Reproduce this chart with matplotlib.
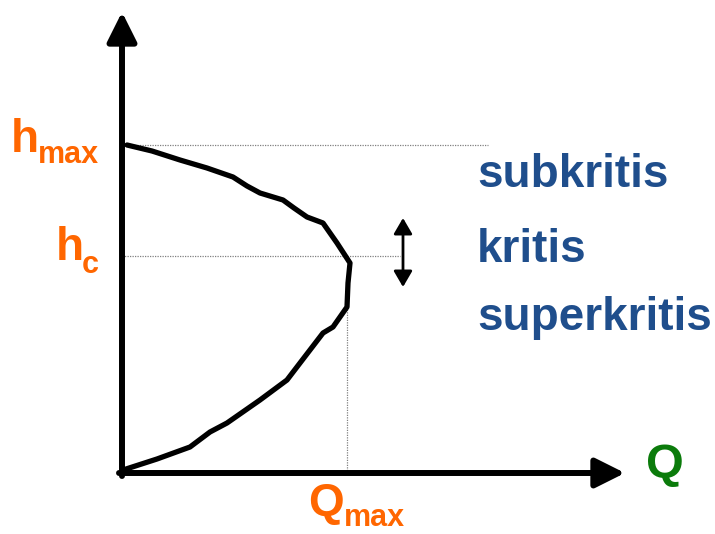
import matplotlib.pyplot as plt

# Kurva energi spesifik: debit Q terhadap tinggi h (satuan bebas)
curve_q = [5, 30, 58, 85, 111, 125, 138, 161, 172, 185, 201, 215, 228, 226,
           225, 211, 201, 178, 165, 138, 105, 88, 68, 35, 1]
curve_h = [328, 322, 313, 305, 296, 287, 280, 273, 265, 256, 250, 230, 210, 190,
           166, 146, 140, 110, 93, 73, 50, 41, 26, 14, 3]

h_max = 328
h_c = 217
q_max = 225
q_axis_end = 503
h_axis_end = 461

regimes = ['subkritis', 'kritis', 'superkritis']
regime_h = [286, 211, 143]

orange = '#FF6600'
blue = '#1F4E8C'
green = '#0B7B0B'
font = ['Liberation Sans', 'DejaVu Sans']

fig = plt.figure(figsize=(7.15, 5.34), dpi=100)
ax = fig.add_axes([0, 0, 1, 1])
ax.set_xlim(-122, 593)
ax.set_ylim(-61, 473)
ax.axis('off')

# garis bantu putus-putus
ax.plot([0, 366], [h_max, h_max], color='gray', lw=0.9, ls=(0, (1, 1)))
ax.plot([0, 278], [h_c, h_c], color='gray', lw=0.9, ls=(0, (1, 1)))
ax.plot([q_max, q_max], [0, 166], color='gray', lw=0.9, ls=(0, (1, 1)))

# kurva
ax.plot(curve_q, curve_h, color='black', lw=3.8, solid_capstyle='round',
        solid_joinstyle='round')

# sumbu dengan panah
arrow = dict(arrowstyle='-|>,head_length=0.9,head_width=0.45', lw=4.3,
             color='black', mutation_scale=20, shrinkA=0, shrinkB=0)
ax.annotate('', xy=(0, h_axis_end), xytext=(0, -3), arrowprops=arrow)
ax.annotate('', xy=(q_axis_end, 0), xytext=(-3, 0), arrowprops=arrow)

# panah dua arah
ax.annotate('', xy=(281, 255), xytext=(281, 186),
            arrowprops=dict(arrowstyle='<|-|>,head_length=0.6,head_width=0.35',
                            lw=2, color='black', mutation_scale=16,
                            shrinkA=0, shrinkB=0))

# label rezim aliran
for name, hy in zip(regimes, regime_h):
    ax.text(355, hy, name, color=blue, fontsize=33, fontweight='bold',
            family=font, va='baseline', ha='left')

# label oranye (huruf utama + subskrip)
big, small = 33, 22
ax.text(-111, 321, 'h', color=orange, fontsize=big, fontweight='bold',
        family=font, va='baseline', ha='left')
ax.text(-84, 310, 'max', color=orange, fontsize=small, fontweight='bold',
        family=font, va='baseline', ha='left')
ax.text(-66, 213, 'h', color=orange, fontsize=big, fontweight='bold',
        family=font, va='baseline', ha='left')
ax.text(-40, 200, 'c', color=orange, fontsize=small, fontweight='bold',
        family=font, va='baseline', ha='left')
ax.text(186, -43, 'Q', color=orange, fontsize=big, fontweight='bold',
        family=font, va='baseline', ha='left')
ax.text(222, -53, 'max', color=orange, fontsize=small, fontweight='bold',
        family=font, va='baseline', ha='left')

ax.text(524, -5, 'Q', color=green, fontsize=35, fontweight='bold',
        family=font, va='baseline', ha='left')

fig.savefig('out.png', dpi=100)
